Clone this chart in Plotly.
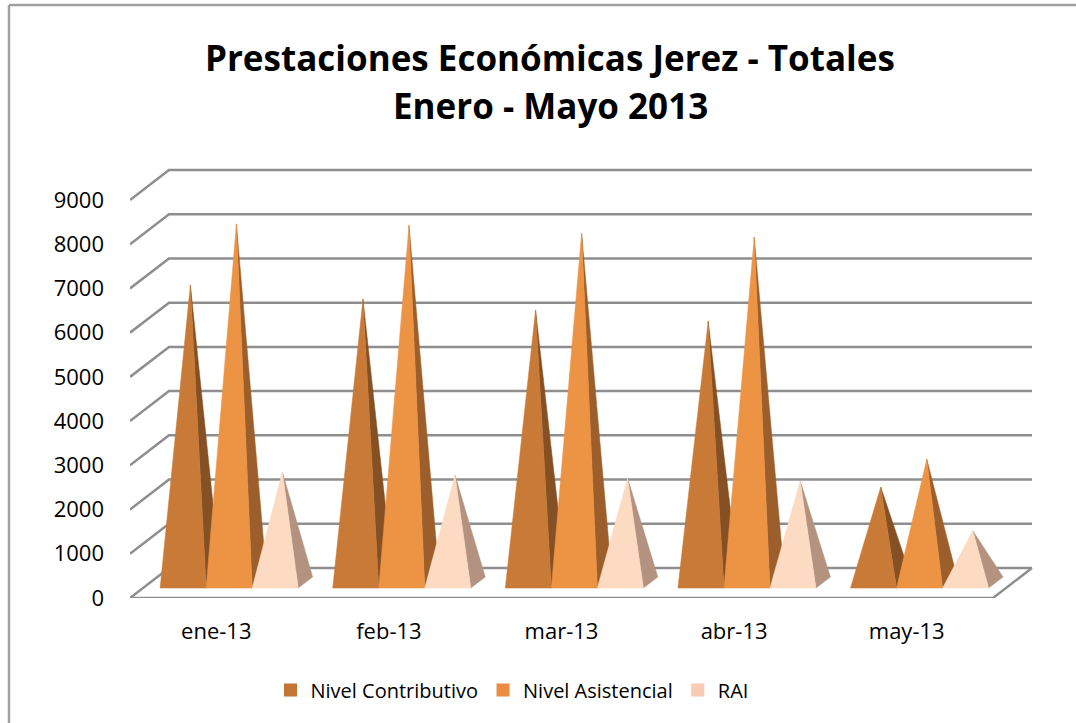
import plotly.graph_objects as go

# ---------------- data ----------------
CATEGORIES = ["ene-13", "feb-13", "mar-13", "abr-13", "may-13"]
NIVEL_CONTRIBUTIVO = [6730, 6410, 6160, 5910, 2160]
NIVEL_ASISTENCIAL = [8110, 8080, 7900, 7810, 2790]
RAI = [2500, 2430, 2360, 2300, 1170]
SERIES_NAMES = ["Nivel Contributivo", "Nivel Asistencial", "RAI"]
Y_TICKS = [0, 1000, 2000, 3000, 4000, 5000, 6000, 7000, 8000, 9000]

# ---------------- styles ----------------
FRONT_COLORS = ["#C97A37", "#ED9344", "#FDDBC2"]
SIDE_COLORS = ["#845024", "#9C5F2B", "#B3927F"]
LEGEND_COLORS = ["#C47533", "#EA8D40", "#F8CBB5"]
GRID_COLOR = "#8E8E8E"
FONT = "Open Sans"

# ---------------- layout geometry (page pixels) ----------------
W, H = 1076, 723
PLOT_LEFT, PLOT_RIGHT = 130, 1040
PLOT_TOP, PLOT_BOTTOM = 160, 598
L = PLOT_LEFT
R = W - PLOT_RIGHT
T = PLOT_TOP
B = H - PLOT_BOTTOM
plot_w = PLOT_RIGHT - PLOT_LEFT
plot_h = PLOT_BOTTOM - PLOT_TOP
cat_px = 172.6            # pixels per category on the front plane
val_px = 398 / 9000       # pixels per value unit
x_range = [0, plot_w / cat_px]
y_range = [0, plot_h / val_px]
DX = 39 / cat_px          # depth offset (category units)
DY = 30 / val_px          # depth offset (value units)
F0, F1 = 0.33, 0.70       # pyramid base depth fractions
FM = (F0 + F1) / 2
GAP = 0.1
n = len(CATEGORIES)
series = [NIVEL_CONTRIBUTIVO, NIVEL_ASISTENCIAL, RAI]
BAR_W = (1 - 2 * GAP) / len(series)

fig = go.Figure()

# gridlines (back wall + left wall) and floor
gx, gy = [], []
for v in Y_TICKS:
    gx += [0, DX, n + DX, None]
    gy += [v, v + DY, v + DY, None]
gx += [0, n, n + DX, None]
gy += [0, 0, DY, None]
fig.add_trace(go.Scatter(x=gx, y=gy, mode="lines",
                         line=dict(color=GRID_COLOR, width=2.5),
                         hoverinfo="skip", showlegend=False))

# pyramids
for i in range(n):
    for j, vals in enumerate(series):
        v = vals[i]
        x0 = i + GAP + j * BAR_W
        A = (x0 + F0 * DX, F0 * DY)
        Bp = (x0 + BAR_W + F0 * DX, F0 * DY)
        C = (x0 + BAR_W + F1 * DX, F1 * DY)
        P = (x0 + BAR_W / 2 + FM * DX, FM * DY + v)
        # side face
        fig.add_trace(go.Scatter(
            x=[Bp[0], C[0], P[0], Bp[0]], y=[Bp[1], C[1], P[1], Bp[1]],
            mode="lines", fill="toself", fillcolor=SIDE_COLORS[j],
            line=dict(color=SIDE_COLORS[j], width=0.5),
            name=SERIES_NAMES[j], hovertemplate=f"{CATEGORIES[i]}: {v}<extra>{SERIES_NAMES[j]}</extra>",
            showlegend=False))
        # front face
        fig.add_trace(go.Scatter(
            x=[A[0], Bp[0], P[0], A[0]], y=[A[1], Bp[1], P[1], A[1]],
            mode="lines", fill="toself", fillcolor=FRONT_COLORS[j],
            line=dict(color=FRONT_COLORS[j], width=0.5),
            name=SERIES_NAMES[j], hovertemplate=f"{CATEGORIES[i]}: {v}<extra>{SERIES_NAMES[j]}</extra>",
            showlegend=False))

# legend entries
for j, name in enumerate(SERIES_NAMES):
    fig.add_trace(go.Scatter(x=[None], y=[None], mode="markers", name=name,
                             marker=dict(symbol="square", size=13, color=LEGEND_COLORS[j])))


def px_x(px):
    return (px - PLOT_LEFT) / plot_w


def px_y(py):
    return (PLOT_BOTTOM - py) / plot_h


# chart border
fig.add_shape(type="line", xref="paper", yref="paper",
              x0=px_x(9), x1=px_x(9), y0=px_y(5), y1=px_y(H),
              line=dict(color="#A0A0A0", width=2.5))
fig.add_shape(type="line", xref="paper", yref="paper",
              x0=px_x(9), x1=px_x(W), y0=px_y(5), y1=px_y(5),
              line=dict(color="#A0A0A0", width=2.5))

# title
fig.add_annotation(text="<b>Prestaciones Económicas Jerez - Totales</b>",
                   xref="paper", yref="paper", x=px_x(550), y=px_y(57),
                   xanchor="center", yanchor="middle", showarrow=False,
                   font=dict(family=FONT, size=35, color="#000000"))
fig.add_annotation(text="<b>Enero - Mayo 2013</b>",
                   xref="paper", yref="paper", x=px_x(550), y=px_y(105),
                   xanchor="center", yanchor="middle", showarrow=False,
                   font=dict(family=FONT, size=35, color="#000000"))

fig.update_layout(
    width=W, height=H, autosize=False,
    margin=dict(l=L, r=R, t=T, b=B),
    paper_bgcolor="white", plot_bgcolor="white",
    font=dict(family=FONT, color="#000000"),
    xaxis=dict(range=x_range, showgrid=False, zeroline=False, showline=False,
               tickmode="array", tickvals=[i + 0.5 for i in range(n)], ticktext=CATEGORIES,
               ticks="", ticklabelstandoff=18, tickfont=dict(size=22, family=FONT, color="#000000"),
               fixedrange=True),
    yaxis=dict(range=y_range, showgrid=False, zeroline=False, showline=False,
               tickmode="array", tickvals=Y_TICKS, ticktext=[str(v) for v in Y_TICKS],
               ticks="", ticklabelstandoff=25, tickfont=dict(size=22, family=FONT, color="#000000"),
               fixedrange=True),
    showlegend=True,
    legend=dict(orientation="h", x=px_x(512), xanchor="center", y=px_y(690), yanchor="middle",
                font=dict(size=20, family=FONT, color="#000000"), bgcolor="rgba(0,0,0,0)",
                itemclick=False, itemdoubleclick=False),
)

# remove the default page margin so the figure fills the window exactly
PAGE_JS = ("document.documentElement.style.overflow='hidden';"
           "document.body.style.margin='0';document.body.style.overflow='hidden';")
fig.write_html("out.html", post_script=PAGE_JS, config={"displayModeBar": False})
